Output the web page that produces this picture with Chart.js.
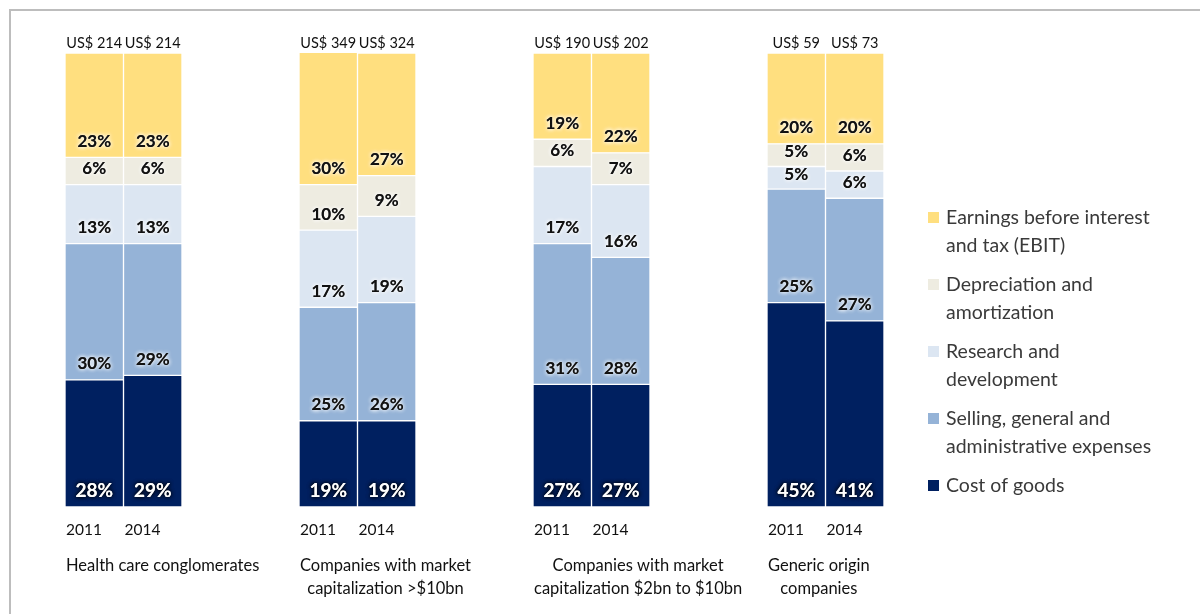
<!DOCTYPE html>
<html>
<head>
<meta charset="utf-8">
<script src="https://cdn.jsdelivr.net/npm/chart.js@4.4.1/dist/chart.umd.min.js"></script>
<style>
  html, body { margin: 0; padding: 0; background: #fff; }
  #wrap { position: relative; width: 1200px; height: 614px; overflow: hidden; }
  #frame {
    position: absolute; left: 9px; top: 9px; width: 1300px; height: 700px;
    border-top: 2px solid #bdbdbd; border-left: 2px solid #bdbdbd;
  }
  canvas { position: absolute; left: 0; top: 0; }
</style>
</head>
<body>
<div id="wrap">
  <div id="frame"></div>
  <canvas id="costChart" width="1200" height="614"></canvas>
</div>
<script>
// Revenue breakdown by company type, 2011 vs 2014
const groups = [
  ["Health care conglomerates"],
  ["Companies with market", "capitalization >$10bn"],
  ["Companies with market", "capitalization $2bn to $10bn"],
  ["Generic origin", "companies"]
];
const years = ["2011", "2014"];
const totals = [214, 214, 349, 324, 190, 202, 59, 73];

// shares in %, two bars per group (2011, 2014)
const ebit = [23, 23, 30, 27, 19, 22, 20, 20];
const depreciation = [6, 6, 10, 9, 6, 7, 5, 6];
const research = [13, 13, 17, 19, 17, 16, 5, 6];
const sga = [30, 29, 25, 26, 31, 28, 25, 27];
const costOfGoods = [28, 29, 19, 19, 27, 27, 45, 41];

const legendLabels = [
  ["Earnings before interest", "and tax (EBIT)"],
  ["Depreciation and", "amortization"],
  ["Research and", "development"],
  ["Selling, general and", "administrative expenses"],
  ["Cost of goods"]
];
const colors = {
  ebit: "#FFDF7F",
  dep: "#EEECE1",
  rnd: "#DCE6F2",
  sga: "#95B3D7",
  cogs: "#002060"
};

// two empty slots between groups act as spacing
function spread(values) {
  const out = [];
  groups.forEach(function (g, i) {
    out.push(values[i * 2], values[i * 2 + 1]);
    if (i < groups.length - 1) out.push(null, null);
  });
  return out;
}
const labels = spread(years.concat(years, years, years));
const FONT = "Lato, 'Open Sans', sans-serif";

function makeSet(label, data, color) {
  return {
    label: label,
    data: spread(data),
    backgroundColor: color,
    borderColor: "#ffffff",
    borderWidth: 1,
    borderSkipped: false,
    barPercentage: 1,
    categoryPercentage: 1
  };
}

const textPlugin = {
  id: "textPlugin",
  afterDatasetsDraw(chart) {
    const ctx = chart.ctx;
    ctx.save();
    ctx.textAlign = "center";
    ctx.textBaseline = "middle";
    // percentage labels near the base of every segment
    chart.data.datasets.forEach(function (ds, di) {
      const meta = chart.getDatasetMeta(di);
      meta.data.forEach(function (bar, j) {
        const v = ds.data[j];
        if (v === null) return;
        const dark = di === 0;
        ctx.font = "bold " + (dark ? 19 : 17) + "px " + FONT;
        ctx.fillStyle = dark ? "#ffffff" : "#111111";
        ctx.shadowColor = dark ? "rgba(0,0,0,0.9)" : "rgba(255,255,255,1)";
        ctx.shadowBlur = 4;
        const y = Math.max(bar.base - 16, bar.y + 8);
        ctx.fillText(v + "%", bar.x, y);
        ctx.fillText(v + "%", bar.x, y);
      });
    });
    ctx.shadowBlur = 0;
    ctx.shadowColor = "transparent";

    const top = chart.getDatasetMeta(0).data;
    const area = chart.chartArea;
    // totals above bars, years below
    let k = 0;
    chart.data.labels.forEach(function (lab, j) {
      if (!lab) return;
      const bar = top[j];
      ctx.fillStyle = "#111111";
      ctx.font = "14.5px " + FONT;
      ctx.textAlign = "center";
      ctx.fillText("US$ " + totals[k], bar.x, area.top - 10);
      ctx.font = "15.5px " + FONT;
      ctx.textAlign = "left";
      ctx.fillText(lab, bar.x - bar.width / 2 + 1, area.bottom + 23);
      k++;
    });

    // group captions, left edge on the first bar of each group
    groups.forEach(function (lines, i) {
      const bar = top[i * 4];
      const left = bar.x - bar.width / 2 + 1;
      ctx.font = "16.5px " + FONT;
      let w = 0;
      lines.forEach(function (l) { w = Math.max(w, ctx.measureText(l).width); });
      ctx.textAlign = "center";
      lines.forEach(function (l, n) {
        ctx.fillText(l, left + w / 2, area.bottom + 59 + n * 23);
      });
    });

    // legend on the right
    const order = [
      ["ebit", 0], ["dep", 1], ["rnd", 2], ["sga", 3], ["cogs", 4]
    ];
    ctx.textAlign = "left";
    ctx.font = "19.5px " + FONT;
    order.forEach(function (o, i) {
      const y0 = 218 + i * 67;
      ctx.fillStyle = colors[o[0]];
      ctx.fillRect(928, y0 - 6, 11, 11);
      ctx.fillStyle = "#3a3a3a";
      legendLabels[o[1]].forEach(function (l, n) {
        ctx.fillText(l, 946, y0 + n * 28);
      });
    });
    ctx.restore();
  }
};

document.addEventListener("DOMContentLoaded", function () {
  const ctx = document.getElementById("costChart").getContext("2d");

  new Chart(ctx, {
    type: "bar",
    data: {
      labels: labels,
      datasets: [
        makeSet("Cost of goods", costOfGoods, colors.cogs),
        makeSet("Selling, general and administrative expenses", sga, colors.sga),
        makeSet("Research and development", research, colors.rnd),
        makeSet("Depreciation and amortization", depreciation, colors.dep),
        makeSet("Earnings before interest and tax (EBIT)", ebit, colors.ebit)
      ]
    },
    options: {
      responsive: false,
      animation: false,
      layout: {
        padding: { left: 65, right: 316, top: 53, bottom: 107 }
      },
      plugins: {
        legend: { display: false },
        tooltip: { enabled: false }
      },
      scales: {
        x: { stacked: true, display: false },
        y: { stacked: true, display: false, min: 0, max: 100 }
      }
    },
    plugins: [textPlugin]
  });
});
</script>
</body>
</html>
